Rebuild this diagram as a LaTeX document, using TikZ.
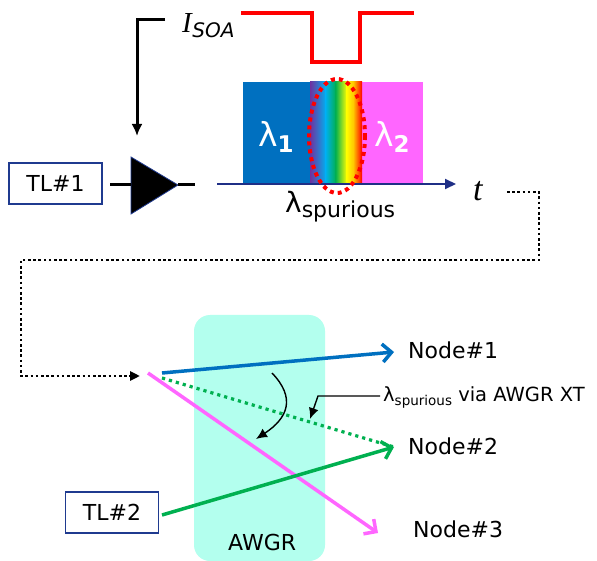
\documentclass[tikz,border=0pt]{standalone}
\usepackage{fontspec}
\setmainfont{DejaVu Sans}
\newfontfamily\timesf{Liberation Serif}
\usetikzlibrary{arrows.meta}
\definecolor{navyb}{HTML}{1F2F86}
\definecolor{boxb}{HTML}{1F3A8F}
\definecolor{blueA}{HTML}{0070C0}
\definecolor{magA}{HTML}{FF66FF}
\definecolor{greenA}{HTML}{00B050}
\definecolor{awgrA}{HTML}{B3FFEE}
\definecolor{purpA}{HTML}{7030A0}
\definecolor{lblueA}{HTML}{00B0F0}
\definecolor{orgA}{HTML}{FFC000}
\tikzset{
  tlbox/.style={draw=boxb, line width=1.5pt, fill=white, minimum width=93pt, minimum height=41pt, inner sep=0pt, font=\fontsize{22}{22}\selectfont},
  lbl/.style={inner sep=0pt, anchor=base west},
  nodetxt/.style={lbl, font=\fontsize{22}{22}\selectfont},
  conn/.style={line width=3pt, black},
  dotconn/.style={line width=2.6pt, black, dash pattern=on 2.6pt off 2.6pt},
  route/.style={line width=3.5pt, -{Straight Barb[length=9pt,width=18pt]}},
  thinarrow/.style={line width=1.4pt, -{Latex[length=11pt,width=10pt]}},
}
\begin{document}
\begin{tikzpicture}[x=1pt,y=-1pt]
\useasboundingbox (0,0) rectangle (597,561);
\fill[white] (0,0) rectangle (597,561);

% ---- top part ----
\node[tlbox] (tl1) at (55.5,183.5) {TL\#1};
\coordinate (soaL) at (131,185);
\coordinate (soaT) at (178,185);
\filldraw[black, draw=boxb, line width=0.8pt] (131,157) -- (soaT) -- (131,214) -- cycle;
\coordinate (tl1R) at (110,185);
\draw[conn] (tl1R) -- (soaL);
\coordinate (soaOut) at (195,185);
\draw[conn] (soaT) -- (soaOut);

% I_SOA
\node[lbl] (isoa) at (182,33) {\timesf\itshape\fontsize{29}{29}\selectfont I\kern0.5pt\raisebox{-5pt}{\fontsize{20}{20}\selectfont\normalfont\itshape SOA}};
\coordinate (isoaL) at (165,20);
\coordinate (soaIn) at (137,136);
\draw[conn, -{Latex[length=12pt,width=11pt]}] (isoaL) -- (137,20) -- (soaIn);

% red pulse
\coordinate (p0) at (241,13);
\coordinate (p1) at (414,13);
\draw[red, line width=3.5pt] (p0) -- (312,13) -- (312,62) -- (360,62) -- (360,13) -- (p1);

% wavelength blocks
\fill[blueA] (243,82) rectangle (310.5,183);
\fill[magA] (361.5,82) rectangle (423,183);
\shade[left color=purpA, right color=lblueA] (310,82) rectangle (326,183);
\shade[left color=lblueA, right color=greenA] (325.5,82) rectangle (336,183);
\shade[left color=greenA, right color=yellow] (335.5,82) rectangle (347,183);
\shade[left color=yellow, right color=orgA] (346.5,82) rectangle (354,183);
\shade[left color=orgA, right color=red] (353.5,82) rectangle (362,183);

\node[lbl, white] (l1) at (258,147) {\fontsize{33}{33}\selectfont λ\raisebox{-6pt}{\fontsize{23}{23}\selectfont\bfseries 1}};
\node[lbl, white] (l2) at (374,147) {\fontsize{33}{33}\selectfont λ\raisebox{-6pt}{\fontsize{23}{23}\selectfont\bfseries 2}};

% axis
\coordinate (ax0) at (217,184);
\coordinate (ax1) at (456,184);
\draw[navyb, line width=2pt, -{Triangle[length=11pt,width=10pt]}] (ax0) -- (ax1);
\node[lbl] (tlab) at (473,201) {\timesf\itshape\fontsize{34}{34}\selectfont t};

% red dotted ellipse
\draw[red, line width=4pt, dash pattern=on 4pt off 4pt] (337,136) ellipse [x radius=28, y radius=57];

\node[lbl] (lsp) at (285,213) {\fontsize{28}{28}\selectfont λ\raisebox{-5pt}{\fontsize{22}{22}\selectfont spurious}};

% dotted connector
\coordinate (tOut) at (507,192);
\coordinate (awIn) at (140,376);
\draw[dotconn, -{Triangle[length=10pt,width=9pt]}] (tOut) -- (539,192) -- (539,260) -- (21,260) -- (21,376) -- (awIn);

% ---- bottom part ----
\node[fill=awgrA, rounded corners=16pt, minimum width=131pt, minimum height=246pt, inner sep=0pt] (awgr) at (259.5,438) {};
\node[lbl, font=\fontsize{22}{22}\selectfont] (awgrl) at (228,550) {AWGR};

\node[tlbox] (tl2) at (112,512.5) {TL\#2};

\node[nodetxt] (n1) at (408,358) {Node\#1};
\node[nodetxt] (n2) at (408,454) {Node\#2};
\node[nodetxt] (n3) at (413,537) {Node\#3};

\coordinate (bS) at (162,373);
\coordinate (bE) at (394,352);
\coordinate (gS) at (162,378);
\coordinate (gE) at (394,447);
\coordinate (mS) at (148,373);
\coordinate (mE) at (378,533);
\coordinate (g2S) at (162,515);

\draw[route, magA] (mS) -- (mE);
\draw[route, blueA] (bS) -- (bE);
\draw[line width=3.2pt, greenA, dash pattern=on 3.2pt off 4pt] (gS) -- (gE);
\draw[route, greenA] (g2S) -- (gE);

% curved arrow
\coordinate (cS) at (272,373);
\coordinate (cE) at (256,439);
\draw[thinarrow] (cS) .. controls (296,398) and (288,418) .. (cE);

% XT label
\node[lbl] (xt) at (383,401) {\fontsize{19.5}{19.5}\selectfont λ\raisebox{-4pt}{\fontsize{13.5}{13.5}\selectfont spurious} via AWGR XT};
\coordinate (xtL) at (380,396);
\coordinate (xtE) at (310,419);
\draw[thinarrow] (xtL) -- (318,396) -- (xtE);
\end{tikzpicture}
\end{document}
